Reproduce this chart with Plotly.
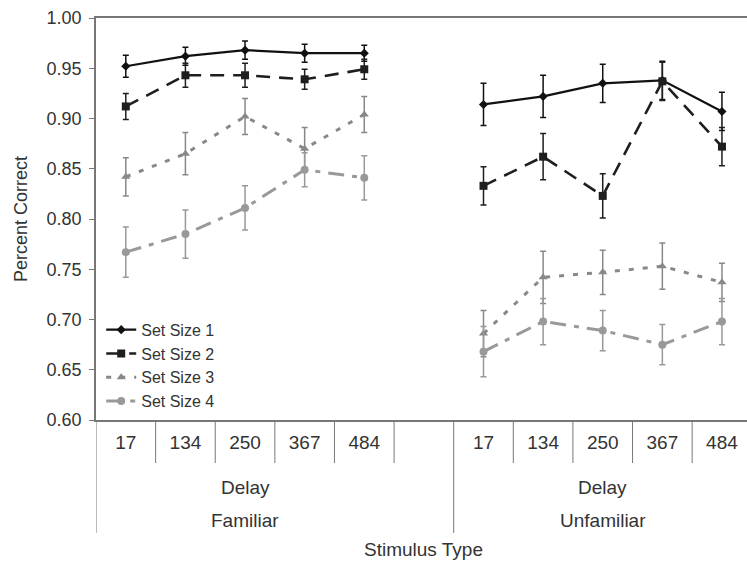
import plotly.graph_objects as go

# ---- data ----
delays = ["17", "134", "250", "367", "484"]
groups = ["Familiar", "Unfamiliar"]
series_names = ["Set Size 1", "Set Size 2", "Set Size 3", "Set Size 4"]

set1_familiar = [0.952, 0.962, 0.968, 0.965, 0.965]
set1_unfamiliar = [0.914, 0.922, 0.935, 0.938, 0.907]
set2_familiar = [0.912, 0.943, 0.943, 0.939, 0.949]
set2_unfamiliar = [0.833, 0.862, 0.823, 0.937, 0.872]
set3_familiar = [0.842, 0.865, 0.902, 0.870, 0.904]
set3_unfamiliar = [0.686, 0.742, 0.747, 0.753, 0.737]
set4_familiar = [0.767, 0.785, 0.811, 0.849, 0.841]
set4_unfamiliar = [0.668, 0.698, 0.689, 0.675, 0.698]

err1_familiar = [0.011, 0.009, 0.009, 0.009, 0.008]
err1_unfamiliar = [0.021, 0.021, 0.019, 0.019, 0.019]
err2_familiar = [0.013, 0.012, 0.012, 0.010, 0.010]
err2_unfamiliar = [0.019, 0.023, 0.022, 0.019, 0.019]
err3_familiar = [0.019, 0.021, 0.018, 0.021, 0.018]
err3_unfamiliar = [0.023, 0.026, 0.022, 0.023, 0.019]
err4_familiar = [0.025, 0.024, 0.022, 0.017, 0.022]
err4_unfamiliar = [0.025, 0.023, 0.020, 0.020, 0.023]

values = [
    (set1_familiar, set1_unfamiliar),
    (set2_familiar, set2_unfamiliar),
    (set3_familiar, set3_unfamiliar),
    (set4_familiar, set4_unfamiliar),
]
errors = [
    (err1_familiar, err1_unfamiliar),
    (err2_familiar, err2_unfamiliar),
    (err3_familiar, err3_unfamiliar),
    (err4_familiar, err4_unfamiliar),
]

# ---- styles ----
styles = [
    dict(color="#111111", dash="solid", width=2.2, symbol="diamond", msize=7),
    dict(color="#1e1e1e", dash="14px,9px", width=2.6, symbol="square", msize=8),
    dict(color="#888888", dash="5px,9px", width=3, symbol="triangle-up", msize=8),
    dict(color="#999999", dash="16px,8px,5px,8px", width=3, symbol="circle", msize=8),
]

slots_per_group = len(delays) + 1
n_slots = slots_per_group * len(groups) - 1


def positions():
    xs = []
    for g in range(len(groups)):
        for i in range(len(delays)):
            xs.append(g * slots_per_group + i)
        if g < len(groups) - 1:
            xs.append(None)
    return xs


fig = go.Figure()
for name, (fam, unf), (ef, eu), st in zip(series_names, values, errors, styles):
    ys = list(fam) + [None] + list(unf)
    es = list(ef) + [0] + list(eu)
    fig.add_trace(go.Scatter(
        x=positions(), y=ys, name=name, mode="lines+markers",
        connectgaps=False,
        line=dict(color=st["color"], dash=st["dash"], width=st["width"]),
        marker=dict(symbol=st["symbol"], size=st["msize"], color=st["color"]),
        error_y=dict(type="data", array=es, visible=True,
                     color=st["color"], thickness=1.5, width=3),
    ))

tickvals = [x for x in positions() if x is not None]
ticktext = delays * len(groups)

axis_color = "#777777"
text_color = "#333333"

# category separators
shapes = []
for g in range(len(groups)):
    start = g * slots_per_group - 0.5
    shapes.append(dict(type="line", xref="x", yref="paper", x0=start, x1=start,
                       y0=0, y1=-0.281, line=dict(color=axis_color, width=1)))
    for i in range(1, slots_per_group):
        b = start + i
        if b >= n_slots - 0.5:
            continue
        shapes.append(dict(type="line", xref="x", yref="paper", x0=b, x1=b,
                           y0=0, y1=-0.107, line=dict(color=axis_color, width=1)))

annotations = []
for g, gname in enumerate(groups):
    center = g * slots_per_group + (len(delays) - 1) / 2
    annotations.append(dict(x=center, y=-0.167, xref="x", yref="paper", text="Delay",
                            showarrow=False, yanchor="middle",
                            font=dict(size=19, color=text_color)))
    annotations.append(dict(x=center, y=-0.251, xref="x", yref="paper", text=gname,
                            showarrow=False, yanchor="middle",
                            font=dict(size=19, color=text_color)))
annotations.append(dict(x=(n_slots - 1) / 2, y=-0.323, xref="x", yref="paper",
                        text="Stimulus Type", showarrow=False, yanchor="middle",
                        font=dict(size=19, color=text_color)))

fig.update_layout(
    width=747, height=563,
    margin=dict(l=96, r=0, t=18, b=143),
    paper_bgcolor="white", plot_bgcolor="white",
    font=dict(family="Liberation Sans, Arial, sans-serif", size=18, color=text_color),
    showlegend=True,
    legend=dict(x=0.008, y=0.135, xanchor="left", yanchor="middle",
                bgcolor="rgba(0,0,0,0)", font=dict(size=16), itemwidth=30,
                tracegroupgap=0),
    shapes=shapes, annotations=annotations,
    xaxis=dict(range=[-0.5, 10.42], tickvals=tickvals, ticktext=ticktext,
               ticks="", showgrid=False, zeroline=False, showline=True,
               linecolor=axis_color, linewidth=1.5, mirror=True,
               ticklabelstandoff=4, tickfont=dict(size=19)),
    yaxis=dict(range=[0.6, 1.0], dtick=0.05, tickformat=".2f", ticks="outside",
               ticklen=5, tickcolor=axis_color, showgrid=False, zeroline=False,
               showline=True, linecolor=axis_color, linewidth=1.5,
               ticklabelstandoff=4,
               title=dict(text="Percent Correct", font=dict(size=18), standoff=14),
               tickfont=dict(size=18)),
)

fig.write_html("out.html", config={"displayModeBar": False},
               post_script="document.body.style.margin='0';")
